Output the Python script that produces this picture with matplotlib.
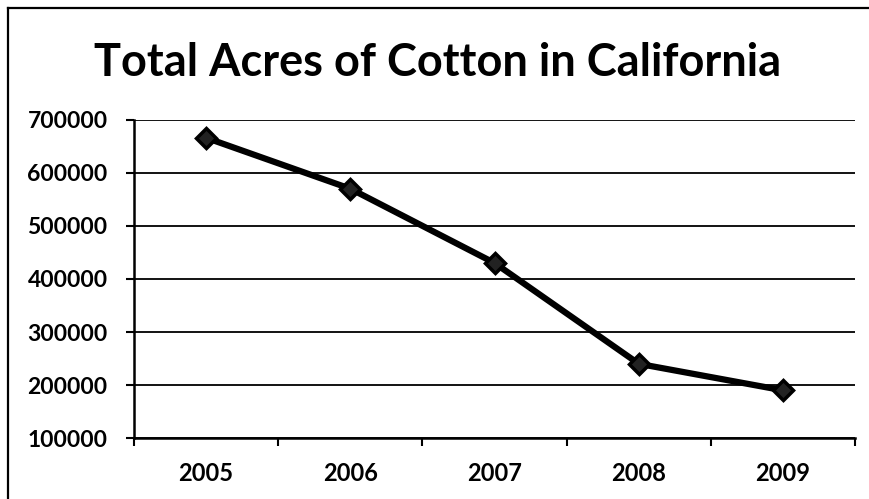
import matplotlib

matplotlib.use("Agg")
import matplotlib.pyplot as plt
from matplotlib.lines import Line2D

years = ["2005", "2006", "2007", "2008", "2009"]
acres = [666000, 570000, 430000, 240000, 190000]
y_ticks = [100000, 200000, 300000, 400000, 500000, 600000, 700000]

plt.rcParams["font.family"] = ["Lato", "DejaVu Sans"]

fig = plt.figure(figsize=(8.7, 4.99), dpi=100)
ax = fig.add_axes([0.154, 0.122, 0.829, 0.638])

x = list(range(len(years)))
ax.plot(x, acres, color="black", linewidth=4.5, marker="D", markersize=10,
        markerfacecolor="#222222", markeredgecolor="black", markeredgewidth=2.5,
        zorder=5)

ax.set_xlim(-0.5, len(years) - 0.5)
ax.set_ylim(100000, 700000)
ax.set_yticks(y_ticks)
ax.set_yticklabels([str(v) for v in y_ticks])
ax.set_xticks(x)
ax.set_xticklabels(years)
ax.set_xticks([i - 0.5 for i in range(len(years) + 1)], minor=True)

ax.grid(axis="y", color="black", linewidth=1.3)
ax.set_axisbelow(True)
for side in ("top", "right"):
    ax.spines[side].set_visible(False)
ax.spines["left"].set_linewidth(1.8)
ax.spines["bottom"].set_linewidth(1.8)

ax.tick_params(axis="y", length=6, width=1.5, pad=13, labelsize=16.5)
ax.tick_params(axis="x", which="major", length=0, pad=17, labelsize=17)
ax.tick_params(axis="x", which="minor", length=6, width=1.5)
for lbl in ax.get_yticklabels() + ax.get_xticklabels():
    lbl.set_fontweight("bold")

fig.text(0.503, 0.873, "Total Acres of Cotton in California", ha="center",
         va="center", fontsize=32.5, fontweight="bold")

# outer chart frame: only the top and left edges show in the scan
fx = 8 / 870
fy = 1 - 8 / 499
fig.add_artist(Line2D([fx, fx], [0, fy], transform=fig.transFigure,
                      color="black", linewidth=1.6))
fig.add_artist(Line2D([fx, 1], [fy, fy], transform=fig.transFigure,
                      color="black", linewidth=1.6))

fig.savefig("out.png", dpi=100)
